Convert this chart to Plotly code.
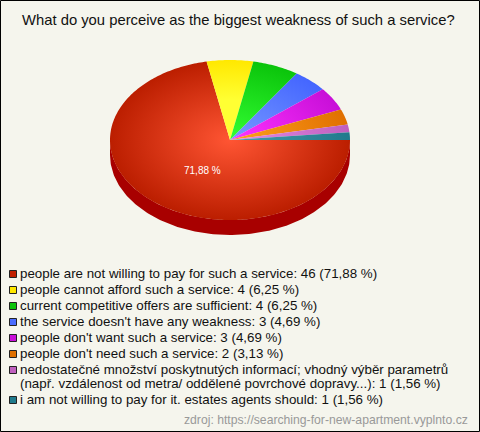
import math
import plotly.graph_objects as go

categories = [
    "people are not willing to pay for such a service",
    "people cannot afford such a service",
    "current competitive offers are sufficient",
    "the service doesn't have any weakness",
    "people don't want such a service",
    "people don't need such a service",
    "nedostatečné množství poskytnutých informací; vhodný výběr parametrů<br>(např. vzdálenost od metra/ oddělené povrchové dopravy...)",
    "i am not willing to pay for it. estates agents should",
]
counts = [46, 4, 4, 3, 3, 2, 1, 1]
percent_labels = ["71,88", "6,25", "6,25", "4,69", "4,69", "3,13", "1,56", "1,56"]
inner_colors = ["#ff5533", "#ffff33", "#33ff33", "#7799ff", "#ff33ff", "#ffa01e", "#e68ce6", "#4a9cae"]
outer_colors = ["#bb1e00", "#ffe800", "#0bc40b", "#4466ff", "#c80fd8", "#e07000", "#bf60bf", "#1f7a8c"]
key_colors = ["#c11f00", "#ffe800", "#0cc40c", "#4a6cff", "#c90fd9", "#e07000", "#bf60bf", "#1f7a8c"]
side_color = "#a80000"
bg = "#f5f5ed"

CX, CY, RX, RY, DEPTH = 230, 140, 120, 80, 15
total = sum(counts)


def pt(deg, dy=0):
    a = math.radians(deg)
    return CX + RX * math.cos(a), CY + RY * math.sin(a) + dy


fig = go.Figure()

# side wall
xs, ys = [], []
for d in range(0, 181):
    x, y = pt(d)
    xs.append(x); ys.append(y)
for d in range(180, -1, -1):
    x, y = pt(d, DEPTH)
    xs.append(x); ys.append(y)
fig.add_trace(go.Scatter(x=xs, y=ys, mode="lines", fill="toself", fillcolor=side_color,
                         line=dict(width=0), hoverinfo="skip", showlegend=False))

# top face: zero-area spikes give each slice the whole ellipse as its bounding box,
# so the radial gradient is centred on the pie centre
cum = 0
for name, v, c0, c1 in zip(categories, counts, inner_colors, outer_colors):
    start = 360 * cum / total
    cum += v
    end = 360 * cum / total
    xs, ys = [CX], [CY]
    for d in (0, 90, 180, 270):
        x, y = pt(d)
        xs += [x, CX]; ys += [y, CY]
    n = max(2, int(end - start) + 2)
    for i in range(n):
        x, y = pt(start + (end - start) * i / (n - 1))
        xs.append(x); ys.append(y)
    xs.append(CX); ys.append(CY)
    fig.add_trace(go.Scatter(
        x=xs, y=ys, mode="lines", fill="toself", name=name.split("<br>")[0],
        line=dict(width=0, simplify=False),
        fillgradient=dict(type="radial", colorscale=[[0, c0], [0.5, c0], [1, c1]] if c0 == "#ffff33" else [[0, c0], [1, c1]]),
        hoverinfo="skip", showlegend=False))

fig.add_annotation(x=202.5, y=170.5, xref="x", yref="y", text=percent_labels[0] + " %", showarrow=False,
                   font=dict(family="Liberation Sans", size=10, color="white"))

fig.add_annotation(x=238.5, y=19.5, xref="x", yref="y", text="What do you perceive as the biggest weakness of such a service?",
                   showarrow=False, font=dict(family="Liberation Sans", size=14.8, color="#111111"))

# legend
row_y = 274
shapes = [dict(type="rect", xref="x", yref="y", x0=0.5, y0=0.5, x1=479.5, y1=431.5,
               line=dict(color="black", width=1), fillcolor="rgba(0,0,0,0)", layer="above")]
for name, v, p, k in zip(categories, counts, percent_labels, key_colors):
    parts = f"{name}: {v} ({p} %)".split("<br>")
    for j, part in enumerate(parts):
        fig.add_annotation(x=20, y=row_y - 0.5 + j * 14, xref="x", yref="y", xanchor="left", yanchor="middle", align="left",
                           text=part, showarrow=False, borderpad=0, borderwidth=0,
                           font=dict(family="Liberation Sans", size=13.33, color="#111111"))
    shapes.append(dict(type="rect", xref="x", yref="y", x0=9.5, x1=16.5, y0=row_y - 3.5, y1=row_y + 3.5,
                       line=dict(color="#222222", width=1), fillcolor=k))
    row_y += 16 + (len(parts) - 1) * 14

fig.add_annotation(x=470, y=420, xref="x", yref="y", xanchor="right", text="zdroj: https://searching-for-new-apartment.vyplnto.cz",
                   showarrow=False, font=dict(family="Liberation Sans", size=12.2, color="#999999"))

fig.update_layout(
    width=480, height=432, margin=dict(l=0, r=0, t=0, b=0), autosize=False,
    paper_bgcolor=bg, plot_bgcolor=bg, showlegend=False, shapes=shapes,
    xaxis=dict(range=[0, 480], visible=False, fixedrange=True),
    yaxis=dict(range=[432, 0], visible=False, fixedrange=True),
)
fig.write_html("out.html", config={"displayModeBar": False},
               post_script="document.body.style.margin='0';document.body.style.overflow='hidden';")
